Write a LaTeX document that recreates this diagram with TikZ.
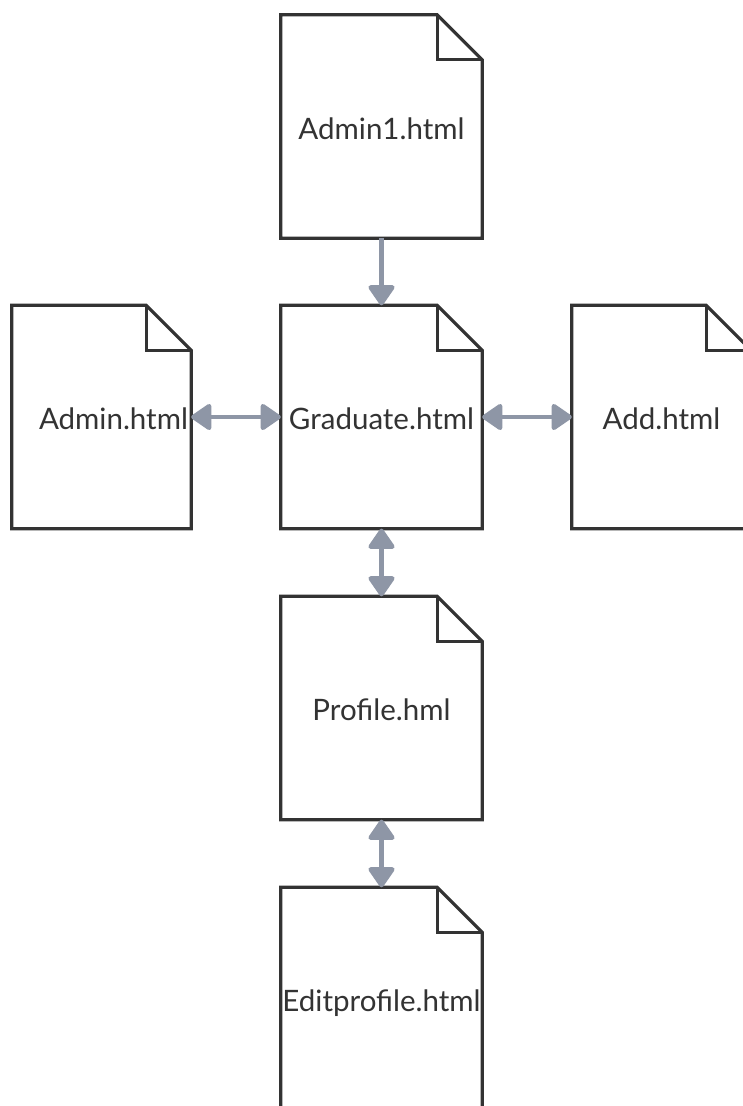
\documentclass[tikz,border=0pt]{standalone}
\usepackage{fontspec}
\setmainfont{Lato}
\usetikzlibrary{arrows.meta}
\definecolor{ink}{HTML}{333333}
\definecolor{connc}{HTML}{8E96A6}
\begin{document}
\begin{tikzpicture}[x=1pt,y=-1pt,
  doc/.style={rectangle, minimum width=201pt, minimum height=223pt, inner sep=0pt,
    font=\fontsize{29.5}{34}\selectfont, text=ink, text height=25pt, text depth=0pt},
  narrow/.style={minimum width=179pt},
  tip/.tip={Triangle[length=22pt,width=29pt,round]},
  oneway/.style={draw=connc, line width=4.5pt, -tip},
  twoway/.style={draw=connc, line width=4.5pt, tip-tip},
  outline/.style={draw=ink, line width=3.2pt, line join=miter}]
\useasboundingbox (0,0) rectangle (742,1106);
\fill[white] (0,0) rectangle (742,1106);
\node[doc] (admin1) at (381.5,126.5) {Admin1.html};
\node[doc] (graduate) at (381.5,417) {Graduate.html};
\node[doc,narrow] (admin) at (101.5,417) {\hspace*{24pt}Admin.html};
\node[doc,narrow] (add) at (661.5,417) {Add.html};
\node[doc] (profile) at (381.5,708) {Profile.hml};
\node[doc] (editprofile) at (381.5,999) {Editprofile.html};
\foreach \n in {admin1,graduate,admin,add,profile,editprofile}{
  \draw[outline] (\n.south west) -- (\n.north west) -- ([xshift=-45pt]\n.north east)
    -- ([yshift=-45pt]\n.north east) -- (\n.south east) -- cycle;
  \draw[outline] ([xshift=-45pt]\n.north east) -- ++(0,45) -- ([yshift=-45pt]\n.north east);
}
\draw[oneway] (admin1) -- (graduate);
\draw[twoway] (admin) -- (graduate);
\draw[twoway] (graduate) -- (add);
\draw[twoway] (graduate) -- (profile);
\draw[twoway] (profile) -- (editprofile);
\end{tikzpicture}
\end{document}
